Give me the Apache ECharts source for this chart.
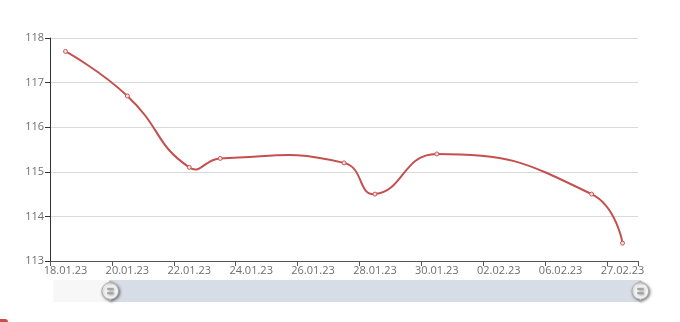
<!DOCTYPE html>
<html>
<head>
<meta charset="utf-8">
<script src="https://cdn.jsdelivr.net/npm/echarts@6/dist/echarts.min.js"></script>
<style>html,body{margin:0;padding:0;background:#fff;}#c{width:680px;height:322px;}</style>
</head>
<body>
<div id="c"></div>
<script>
var categories = ['18.01.23','19.01.23','20.01.23','21.01.23','22.01.23','23.01.23','24.01.23','25.01.23','26.01.23','27.01.23','28.01.23','29.01.23','30.01.23','31.01.23','02.02.23','03.02.23','06.02.23','20.02.23','27.02.23'];
var values = [117.7, null, 116.7, null, 115.1, 115.3, null, null, null, 115.2, 114.5, null, 115.4, null, null, null, null, 114.5, 113.4];
var seriesName = 'Курс';
var yMin = 113, yMax = 118, yStep = 1;

var lineColor = '#c4504e';
var smoothness = 0.5;

// Smooth path through the non-null points (classic ECharts 4 style smoothing), positioned by the chart's own axes.
function renderSmoothLine(params, api) {
  if (params.dataIndex !== 0) return null;
  var pts = [];
  for (var i = 0; i < values.length; i++) {
    if (values[i] != null) pts.push(api.coord([i, values[i]]));
  }
  if (pts.length < 2) return null;
  var d = 'M' + pts[0][0] + ',' + pts[0][1];
  var cp0 = pts[0].slice();
  for (var k = 1; k < pts.length; k++) {
    var p = pts[k], prev = pts[k - 1], next = pts[k + 1];
    var cp1, nextCp0 = p.slice();
    if (!next) {
      cp1 = p.slice();
    } else {
      var vx = next[0] - prev[0], vy = next[1] - prev[1];
      var lp = Math.hypot(p[0] - prev[0], p[1] - prev[1]);
      var ln = Math.hypot(next[0] - p[0], next[1] - p[1]);
      var r = ln / (ln + lp);
      cp1 = [p[0] - vx * smoothness * (1 - r), p[1] - vy * smoothness * (1 - r)];
      nextCp0 = [p[0] + vx * smoothness * r, p[1] + vy * smoothness * r];
    }
    d += ' C' + cp0[0] + ',' + cp0[1] + ' ' + cp1[0] + ',' + cp1[1] + ' ' + p[0] + ',' + p[1];
    cp0 = nextCp0;
  }
  return {type: 'path', shape: {pathData: d}, style: {stroke: lineColor, lineWidth: 2, fill: null}, silent: true};
}

var chart = echarts.init(document.getElementById('c'), null, {renderer: 'canvas'});
var labelStyle = {color: '#6e6e6e', fontSize: 11, fontFamily: 'Open Sans'};
chart.setOption({
  animation: false,
  backgroundColor: '#fff',
  grid: {left: 50, right: 42, top: 38, bottom: 61},
  legend: {show: true, left: -6, top: 319, padding: 0, itemWidth: 14, itemHeight: 12,
    data: [{name: seriesName, icon: 'roundRect'}],
    itemStyle: {color: lineColor, borderWidth: 0},
    textStyle: {fontSize: 11, color: '#fff'}},
  xAxis: [{
    type: 'category', data: categories, boundaryGap: true,
    axisLine: {lineStyle: {color: '#555', width: 1}},
    axisTick: {show: true, interval: 1, length: 5, lineStyle: {color: '#555'}},
    axisLabel: Object.assign({interval: 1, margin: 4}, labelStyle),
    splitLine: {show: false}
  }, {
    type: 'category', data: categories, show: false
  }],
  yAxis: {
    type: 'value', min: yMin, max: yMax, interval: yStep,
    axisLine: {show: true, lineStyle: {color: '#333', width: 1}},
    axisTick: {show: true, length: 5, lineStyle: {color: '#333'}},
    axisLabel: Object.assign({margin: 6}, labelStyle),
    splitLine: {lineStyle: {color: '#d9d9d9', width: 1}}
  },
  dataZoom: [{
    type: 'slider', xAxisIndex: 1, start: 9.5, end: 100,
    left: 52, right: 40, top: 280, height: 22,
    showDetail: false, showDataShadow: false, brushSelect: false,
    moveHandleSize: 0,
    borderColor: 'transparent',
    backgroundColor: '#f7f7f7',
    fillerColor: 'rgba(167,183,204,0.4)',
    handleIcon: 'M10.7,11.9v-1.3H9.3v1.3c-4.9,0.3-8.8,4.4-8.8,9.4c0,5,3.9,9.1,8.8,9.4v1.3h1.3v-1.3c4.9-0.3,8.8-4.4,8.8-9.4C19.5,16.3,15.6,12.2,10.7,11.9z M13.3,24.4H6.7V23h6.6V24.4z M13.3,19.6H6.7v-1.4h6.6V19.6z',
    handleSize: '85%',
    handleStyle: {color: '#fff', borderColor: '#aaa', shadowBlur: 3, shadowColor: 'rgba(0,0,0,0.5)', shadowOffsetX: 1, shadowOffsetY: 1}
  }],
  series: [{
    name: seriesName + ' line', type: 'custom', xAxisIndex: 0,
    data: [[0, values[0]]],
    renderItem: renderSmoothLine,
    z: 2
  }, {
    name: seriesName, type: 'line', data: values, connectNulls: true, smooth: true,
    xAxisIndex: 0,
    symbol: 'circle', symbolSize: 4, showSymbol: true,
    itemStyle: {color: '#f4dede', borderColor: '#c55a58', borderWidth: 1},
    lineStyle: {color: lineColor, width: 2, opacity: 0},
    color: lineColor,
    z: 3
  }]
});
</script>
</body>
</html>
